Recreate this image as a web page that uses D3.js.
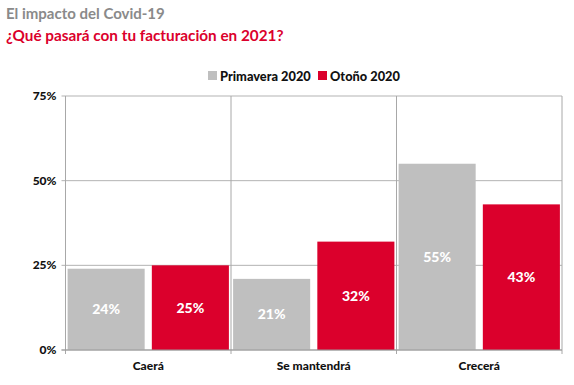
<!DOCTYPE html>
<html>
<head>
<meta charset="utf-8">
<script src="https://cdn.jsdelivr.net/npm/d3@7"></script>
<style>
body { margin: 0; background: #fff; }
text { font-family: Lato, "Open Sans", sans-serif; }
</style>
</head>
<body>
<svg></svg>
<script>
var categories = ["Caerá", "Se mantendrá", "Crecerá"];
var seriesNames = ["Primavera 2020", "Otoño 2020"];
var primavera = [24, 21, 55];
var otono = [25, 32, 43];
var yTicks = [0, 25, 50, 75];

var screen = {width: 574, height: 385};
var margins = {top: 96, right: 12, bottom: 35, left: 65.5};
var width = screen.width - margins.left - margins.right;
var height = screen.height - margins.top - margins.bottom;
var colors = ["#bfbfbf", "#db002c"];

var svg = d3.select("svg")
    .attr("width", screen.width)
    .attr("height", screen.height);

// titles
svg.append("text")
    .attr("x", 6).attr("y", 19)
    .style("font-size", "15px").style("font-weight", "700")
    .attr("fill", "#8a8a8a")
    .text("El impacto del Covid-19");
svg.append("text")
    .attr("x", 6).attr("y", 41)
    .style("font-size", "15.3px").style("font-weight", "700")
    .attr("fill", "#db002c")
    .text("¿Qué pasará con tu facturación en 2021?");

// legend
var legendX = [208, 318];
seriesNames.forEach(function(name, i){
    svg.append("rect")
        .attr("x", legendX[i]).attr("y", 71)
        .attr("width", 9).attr("height", 9)
        .attr("fill", colors[i]);
    svg.append("text")
        .attr("x", legendX[i] + 12).attr("y", 80.5)
        .style("font-size", "12.8px").style("font-weight", "900")
        .attr("fill", "#111")
        .text(name);
});

var g = svg.append("g")
    .attr("transform", "translate(" + margins.left + "," + margins.top + ")");

var xScale = d3.scaleBand()
    .domain(categories)
    .range([0, width]);

var xInner = d3.scaleBand()
    .domain(seriesNames)
    .range([0, xScale.bandwidth()])
    .paddingInner(0.085)
    .paddingOuter(0.025);

var yScale = d3.scaleLinear()
    .domain([0, 75])
    .range([height, 0]);

// horizontal grid
g.selectAll(".hgrid")
    .data(yTicks)
    .enter()
    .append("line")
    .attr("x1", -4).attr("x2", width)
    .attr("y1", function(d){ return yScale(d); })
    .attr("y2", function(d){ return yScale(d); })
    .attr("stroke", "#b3b3b3")
    .attr("stroke-width", 1);

// vertical grid at band boundaries
var bounds = categories.map(function(c){ return xScale(c); }).concat([width]);
g.selectAll(".vgrid")
    .data(bounds)
    .enter()
    .append("line")
    .attr("x1", function(d){ return d; })
    .attr("x2", function(d){ return d; })
    .attr("y1", 0).attr("y2", height + 4)
    .attr("stroke", "#a8a8a8")
    .attr("stroke-width", 1);

// y tick labels
g.selectAll(".ylab")
    .data(yTicks)
    .enter()
    .append("text")
    .attr("x", -9)
    .attr("y", function(d){ return yScale(d) + 4; })
    .attr("text-anchor", "end")
    .style("font-size", "12px").style("font-weight", "900")
    .attr("fill", "#111")
    .text(function(d){ return d + "%"; });

// bars
var rows = categories.map(function(c, i){
    return [
        {cat: c, series: seriesNames[0], value: primavera[i], color: colors[0]},
        {cat: c, series: seriesNames[1], value: otono[i], color: colors[1]}
    ];
});

var groups = g.selectAll(".cat")
    .data(rows)
    .enter()
    .append("g")
    .attr("transform", function(d){ return "translate(" + xScale(d[0].cat) + ",0)"; });

groups.selectAll("rect")
    .data(function(d){ return d; })
    .enter()
    .append("rect")
    .attr("x", function(d){ return xInner(d.series); })
    .attr("width", xInner.bandwidth())
    .attr("y", function(d){ return yScale(d.value); })
    .attr("height", function(d){ return height - yScale(d.value); })
    .attr("fill", function(d){ return d.color; });

groups.selectAll(".val")
    .data(function(d){ return d; })
    .enter()
    .append("text")
    .attr("x", function(d){ return xInner(d.series) + xInner.bandwidth() / 2; })
    .attr("y", function(d){ return (yScale(d.value) + height) / 2 + 5; })
    .attr("text-anchor", "middle")
    .style("font-size", "14px").style("font-weight", "900")
    .attr("fill", "#fff")
    .text(function(d){ return d.value + "%"; });

// baseline
g.append("line")
    .attr("x1", -4).attr("x2", width)
    .attr("y1", height).attr("y2", height)
    .attr("stroke", "#999");

// category labels
g.selectAll(".xlab")
    .data(categories)
    .enter()
    .append("text")
    .attr("x", function(d){ return xScale(d) + xScale.bandwidth() / 2; })
    .attr("y", height + 20)
    .attr("text-anchor", "middle")
    .style("font-size", "12px").style("font-weight", "900")
    .attr("fill", "#111")
    .text(function(d){ return d; });
</script>
</body>
</html>
